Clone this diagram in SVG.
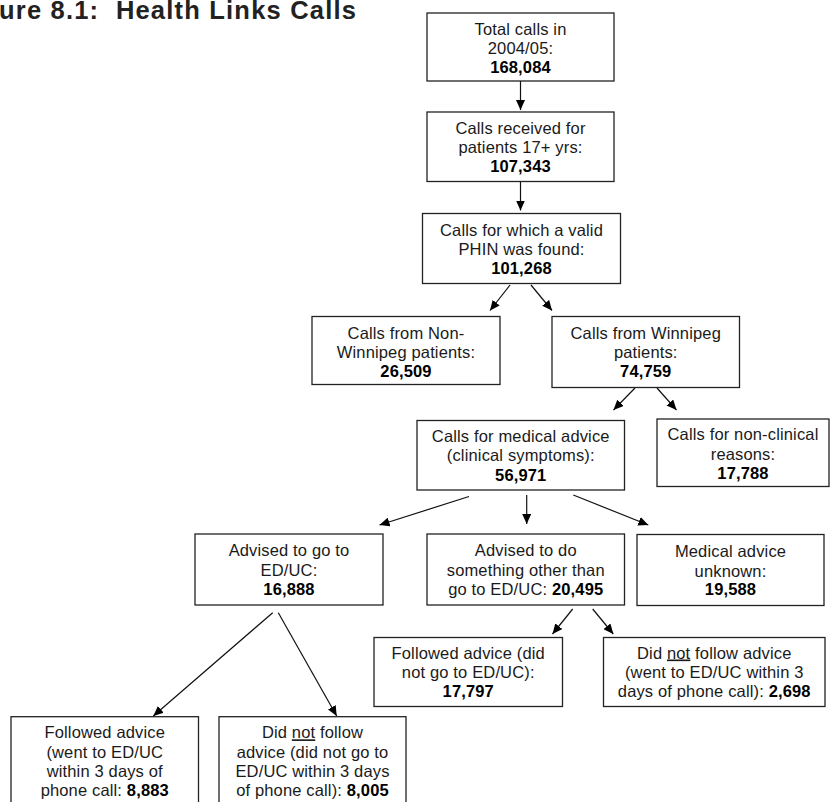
<svg xmlns="http://www.w3.org/2000/svg" width="833" height="802" viewBox="0 0 833 802">
<style>
.box{fill:#fff;stroke:#222;stroke-width:1.3}
.t{font-family:"Liberation Sans",Arial,sans-serif;font-size:16.5px;letter-spacing:0.15px;fill:#1a1a1a;text-anchor:middle}
.b{font-weight:bold;fill:#000}
.c{stroke:#111;stroke-width:1.2;fill:none;marker-end:url(#ah)}
.title{font-family:"Liberation Sans",Arial,sans-serif;font-size:25.5px;font-weight:bold;letter-spacing:1.2px;fill:#222}
</style>
<defs>
<marker id="ah" markerUnits="userSpaceOnUse" markerWidth="11" markerHeight="9" refX="10" refY="4.5" orient="auto">
<path d="M0,0 L10,4.5 L0,9 z" fill="#000"/>
</marker>
</defs>
<rect width="833" height="802" fill="#fff"/>
<text class="title" x="-1" y="19" xml:space="preserve">ure 8.1:  Health Links Calls</text>

<g id="connectors">
<line class="c" x1="520.5" y1="80" x2="520.5" y2="110"/>
<line class="c" x1="520.5" y1="181.5" x2="520.5" y2="210.5"/>
<line class="c" x1="510" y1="285" x2="490" y2="310.5"/>
<line class="c" x1="531" y1="285" x2="552" y2="310.5"/>
<line class="c" x1="635" y1="388" x2="613.5" y2="410"/>
<line class="c" x1="657" y1="388" x2="676.5" y2="410"/>
<line class="c" x1="469" y1="496.5" x2="379.5" y2="525"/>
<line class="c" x1="526.7" y1="495" x2="526.7" y2="524"/>
<line class="c" x1="573.3" y1="495" x2="648.3" y2="525"/>
<line class="c" x1="272.7" y1="612.7" x2="153.3" y2="716"/>
<line class="c" x1="278.3" y1="612.7" x2="336.7" y2="716"/>
<line class="c" x1="572.7" y1="609" x2="552.5" y2="634"/>
<line class="c" x1="592.7" y1="609" x2="613.3" y2="634"/>
</g>

<g id="n1">
<rect class="box" x="427" y="13" width="187" height="68"/>
<text class="t" x="520.5" y="34.5">Total calls in</text>
<text class="t" x="520.5" y="53.5">2004/05:</text>
<text class="t b" x="520.5" y="72.5">168,084</text>
</g>
<g id="n2">
<rect class="box" x="427" y="112" width="187" height="69.5"/>
<text class="t" x="520.5" y="133.5">Calls received for</text>
<text class="t" x="520.5" y="152.5">patients 17+ yrs:</text>
<text class="t b" x="520.5" y="171.5">107,343</text>
</g>
<g id="n3">
<rect class="box" x="422.5" y="213.5" width="198" height="70"/>
<text class="t" x="521.5" y="236">Calls for which a valid</text>
<text class="t" x="521.5" y="255">PHIN was found:</text>
<text class="t b" x="521.5" y="274">101,268</text>
</g>
<g id="n4">
<rect class="box" x="312" y="316.5" width="188" height="68"/>
<text class="t" x="406" y="338.5">Calls from Non-</text>
<text class="t" x="406" y="357.5">Winnipeg patients:</text>
<text class="t b" x="406" y="376.5">26,509</text>
</g>
<g id="n5">
<rect class="box" x="552" y="316.5" width="187.5" height="71"/>
<text class="t" x="645.75" y="339">Calls from Winnipeg</text>
<text class="t" x="645.75" y="358">patients:</text>
<text class="t b" x="645.75" y="377">74,759</text>
</g>
<g id="n6">
<rect class="box" x="417" y="420.5" width="207.5" height="69.5"/>
<text class="t" x="520.75" y="441.5">Calls for medical advice</text>
<text class="t" x="520.75" y="461">(clinical symptoms):</text>
<text class="t b" x="520.75" y="480.5">56,971</text>
</g>
<g id="n7">
<rect class="box" x="657" y="419" width="172" height="67.5"/>
<text class="t" x="743" y="440">Calls for non-clinical</text>
<text class="t" x="743" y="459.5">reasons:</text>
<text class="t b" x="743" y="478.5">17,788</text>
</g>
<g id="n8">
<rect class="box" x="195" y="534" width="188" height="71"/>
<text class="t" x="289" y="556">Advised to go to</text>
<text class="t" x="289" y="575.5">ED/UC:</text>
<text class="t b" x="289" y="594.5">16,888</text>
</g>
<g id="n9">
<rect class="box" x="427" y="534" width="197.5" height="71"/>
<text class="t" x="525.75" y="556">Advised to do</text>
<text class="t" x="525.75" y="575.5">something other than</text>
<text class="t" x="525.75" y="594.5">go to ED/UC: <tspan class="b">20,495</tspan></text>
</g>
<g id="n10">
<rect class="box" x="637" y="534.5" width="187" height="71"/>
<text class="t" x="730.5" y="557">Medical advice</text>
<text class="t" x="730.5" y="576.5">unknown:</text>
<text class="t b" x="730.5" y="595">19,588</text>
</g>
<g id="n11">
<rect class="box" x="374" y="637.5" width="188.5" height="69"/>
<text class="t" x="468.25" y="658.5">Followed advice (did</text>
<text class="t" x="468.25" y="677.5">not go to ED/UC):</text>
<text class="t b" x="468.25" y="696.5">17,797</text>
</g>
<g id="n12">
<rect class="box" x="603.5" y="637.5" width="221.5" height="69"/>
<text class="t" x="714.25" y="658.5">Did <tspan text-decoration="underline">not</tspan> follow advice</text>
<text class="t" x="714.25" y="677.5">(went to ED/UC within 3</text>
<text class="t" x="714.25" y="696.5">days of phone call): <tspan class="b">2,698</tspan></text>
</g>
<g id="n13">
<rect class="box" x="11" y="716.7" width="187.5" height="100"/>
<text class="t" x="104.75" y="738.3">Followed advice</text>
<text class="t" x="104.75" y="757.7">(went to ED/UC</text>
<text class="t" x="104.75" y="776.7">within 3 days of</text>
<text class="t" x="104.75" y="795.7">phone call: <tspan class="b">8,883</tspan></text>
</g>
<g id="n14">
<rect class="box" x="219" y="716.7" width="187" height="100"/>
<text class="t" x="312.5" y="738.3">Did <tspan text-decoration="underline">not</tspan> follow</text>
<text class="t" x="312.5" y="757.7">advice (did not go to</text>
<text class="t" x="312.5" y="776.7">ED/UC within 3 days</text>
<text class="t" x="312.5" y="795.7">of phone call): <tspan class="b">8,005</tspan></text>
</g>
</svg>
